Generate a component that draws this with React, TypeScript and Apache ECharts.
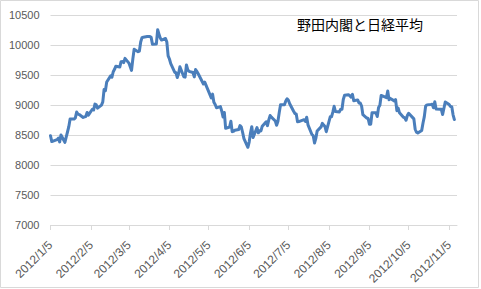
import React, { useEffect, useRef } from "react";
import * as echarts from "echarts";

const dates: string[] = [
  "2012/1/5", "2012/1/6", "2012/1/10", "2012/1/11", "2012/1/12", "2012/1/13", "2012/1/16", "2012/1/17", "2012/1/18", "2012/1/19",
  "2012/1/20", "2012/1/23", "2012/1/24", "2012/1/25", "2012/1/26", "2012/1/27", "2012/1/30", "2012/1/31",
  "2012/2/1", "2012/2/2", "2012/2/3", "2012/2/6", "2012/2/7", "2012/2/8", "2012/2/9", "2012/2/10", "2012/2/13", "2012/2/14",
  "2012/2/15", "2012/2/16", "2012/2/17", "2012/2/20", "2012/2/21", "2012/2/22", "2012/2/23", "2012/2/24", "2012/2/27", "2012/2/28", "2012/2/29",
  "2012/3/1", "2012/3/2", "2012/3/5", "2012/3/6", "2012/3/7", "2012/3/8", "2012/3/9", "2012/3/12", "2012/3/13", "2012/3/14",
  "2012/3/15", "2012/3/16", "2012/3/19", "2012/3/21", "2012/3/22", "2012/3/23", "2012/3/26", "2012/3/27", "2012/3/28", "2012/3/29", "2012/3/30",
  "2012/4/2", "2012/4/3", "2012/4/4", "2012/4/5", "2012/4/6", "2012/4/9", "2012/4/10", "2012/4/11", "2012/4/12", "2012/4/13",
  "2012/4/16", "2012/4/17", "2012/4/18", "2012/4/19", "2012/4/20", "2012/4/23", "2012/4/24", "2012/4/25", "2012/4/26", "2012/4/27",
  "2012/5/1", "2012/5/2", "2012/5/7", "2012/5/8", "2012/5/9", "2012/5/10", "2012/5/11", "2012/5/14", "2012/5/15", "2012/5/16",
  "2012/5/17", "2012/5/18", "2012/5/21", "2012/5/22", "2012/5/23", "2012/5/24", "2012/5/25", "2012/5/28", "2012/5/29", "2012/5/30", "2012/5/31",
  "2012/6/1", "2012/6/4", "2012/6/5", "2012/6/6", "2012/6/7", "2012/6/8", "2012/6/11", "2012/6/12", "2012/6/13", "2012/6/14",
  "2012/6/15", "2012/6/18", "2012/6/19", "2012/6/20", "2012/6/21", "2012/6/22", "2012/6/25", "2012/6/26", "2012/6/27", "2012/6/28", "2012/6/29",
  "2012/7/2", "2012/7/3", "2012/7/4", "2012/7/5", "2012/7/6", "2012/7/9", "2012/7/10", "2012/7/11", "2012/7/12", "2012/7/13",
  "2012/7/17", "2012/7/18", "2012/7/19", "2012/7/20", "2012/7/23", "2012/7/24", "2012/7/25", "2012/7/26", "2012/7/27", "2012/7/30", "2012/7/31",
  "2012/8/1", "2012/8/2", "2012/8/3", "2012/8/6", "2012/8/7", "2012/8/8", "2012/8/9", "2012/8/10", "2012/8/13", "2012/8/14",
  "2012/8/15", "2012/8/16", "2012/8/17", "2012/8/20", "2012/8/21", "2012/8/22", "2012/8/23", "2012/8/24", "2012/8/27", "2012/8/28",
  "2012/8/29", "2012/8/30", "2012/8/31",
  "2012/9/3", "2012/9/4", "2012/9/5", "2012/9/6", "2012/9/7", "2012/9/10", "2012/9/11", "2012/9/12", "2012/9/13", "2012/9/14",
  "2012/9/18", "2012/9/19", "2012/9/20", "2012/9/21", "2012/9/24", "2012/9/25", "2012/9/26", "2012/9/27", "2012/9/28",
  "2012/10/1", "2012/10/2", "2012/10/3", "2012/10/4", "2012/10/5", "2012/10/9", "2012/10/10", "2012/10/11", "2012/10/12",
  "2012/10/15", "2012/10/16", "2012/10/17", "2012/10/18", "2012/10/19", "2012/10/22", "2012/10/23", "2012/10/24", "2012/10/25",
  "2012/10/26", "2012/10/29", "2012/10/30", "2012/10/31",
  "2012/11/1", "2012/11/2", "2012/11/5", "2012/11/6", "2012/11/7", "2012/11/8", "2012/11/9",
];

const closes: number[] = [
  8488, 8390, 8422, 8448, 8385, 8500, 8378, 8466, 8550, 8639,
  8766, 8765, 8785, 8883, 8849, 8841, 8793, 8802,
  8809, 8876, 8831, 8929, 8917, 9015, 9002, 8947, 8999, 9052,
  9260, 9238, 9384, 9485, 9463, 9554, 9595, 9647, 9633, 9722, 9723,
  9707, 9777, 9698, 9637, 9576, 9768, 9929, 9889, 9899, 10050,
  10123, 10129, 10141, 10141, 10127, 10011, 10018, 10255, 10182, 10114, 10083,
  10109, 10050, 9819, 9767, 9688, 9546, 9538, 9458, 9524, 9637,
  9470, 9464, 9667, 9588, 9561, 9542, 9468, 9590, 9561, 9520,
  9350, 9380, 9119, 9181, 9045, 9009, 8953, 8973, 8900, 8801,
  8876, 8611, 8633, 8729, 8556, 8563, 8580, 8593, 8657, 8633, 8542,
  8440, 8295, 8383, 8533, 8639, 8459, 8624, 8536, 8569, 8568,
  8647, 8721, 8655, 8752, 8824, 8798, 8734, 8663, 8730, 8874, 9006,
  9003, 9066, 9104, 9079, 9020, 8896, 8857, 8851, 8720, 8724,
  8755, 8726, 8795, 8669, 8508, 8488, 8365, 8443, 8566, 8635, 8695,
  8665, 8641, 8555, 8803, 8804, 8881, 8978, 8891, 8885, 8929,
  8929, 9092, 9162, 9171, 9156, 9131, 9178, 9070, 9085, 9034,
  9033, 8983, 8839,
  8783, 8775, 8679, 8680, 8871, 8869, 8807, 8959, 8995, 9159,
  9123, 9232, 9087, 9110, 9069, 9091, 8906, 8949, 8870,
  8797, 8786, 8746, 8824, 8863, 8769, 8596, 8546, 8534,
  8577, 8701, 8806, 8982, 9002, 9010, 9014, 8954, 9055,
  8933, 8929, 8928, 8841,
  8946, 9051, 9007, 8975, 8972, 8837, 8757,
];

const tickLabels: string[] = [
  "2012/1/5", "2012/2/5", "2012/3/5", "2012/4/5", "2012/5/5", "2012/6/5",
  "2012/7/5", "2012/8/5", "2012/9/5", "2012/10/5", "2012/11/5",
];

const axisStart = "2012/1/5";
const axisEnd = "2012/11/11";
const yMin = 7000;
const yMax = 10500;
const yStep = 500;
const titleText = "野田内閣と日経平均";

const toTs = (s: string): number => {
  const [y, m, d] = s.split("/").map(Number);
  return Date.UTC(y, m - 1, d);
};

const fmt = (v: number): string => {
  const dt = new Date(v);
  return `${dt.getUTCFullYear()}/${dt.getUTCMonth() + 1}/${dt.getUTCDate()}`;
};

export default function App() {
  const ref = useRef<HTMLDivElement>(null);

  useEffect(() => {
    if (!ref.current) return;
    const chart = echarts.init(ref.current, undefined, { renderer: "svg" });
    const tickTs = tickLabels.map(toTs);
    const font = "'Liberation Sans', Arial, sans-serif";
    chart.setOption({
      animation: false,
      backgroundColor: "#ffffff",
      grid: {
        left: 50.5,
        right: 24,
        top: 15,
        bottom: 64,
        containLabel: false,
        outerBoundsMode: "none",
      },
      xAxis: {
        type: "value",
        min: toTs(axisStart),
        max: toTs(axisEnd),
        axisLine: { show: true, lineStyle: { color: "#d9d9d9", width: 1 } },
        axisTick: {
          show: true,
          customValues: tickTs,
          length: 5,
          lineStyle: { color: "#d9d9d9" },
        },
        axisLabel: {
          customValues: tickTs,
          rotate: 45,
          margin: 18,
          verticalAlign: "middle",
          color: "#595959",
          fontSize: 12,
          fontFamily: font,
          formatter: (v: number) => fmt(v),
        },
        splitLine: { show: false },
      },
      yAxis: {
        type: "value",
        min: yMin,
        max: yMax,
        interval: yStep,
        axisLine: { show: false },
        axisTick: { show: false },
        axisLabel: {
          color: "#595959",
          fontSize: 11,
          fontFamily: font,
          margin: 11,
          formatter: (v: number) => String(v),
        },
        splitLine: { lineStyle: { color: "#d9d9d9", width: 1 } },
      },
      graphic: [
        {
          type: "rect",
          shape: { x: 0.5, y: 0.5, width: 478, height: 287 },
          style: { fill: "none", stroke: "#d9d9d9", lineWidth: 1 },
          silent: true,
        },
        {
          type: "text",
          x: 297,
          y: 17,
          style: {
            text: titleText,
            fill: "#000000",
            fontSize: 14,
            fontFamily: "'Noto Sans CJK JP', sans-serif",
            textVerticalAlign: "top",
          },
        },
      ],
      series: [
        {
          type: "line",
          data: dates.map((d, i) => [toTs(d), closes[i]]),
          showSymbol: false,
          lineStyle: { color: "#4a7ebb", width: 3, join: "round", cap: "round" },
          itemStyle: { color: "#4a7ebb" },
        },
      ],
    });
    return () => chart.dispose();
  }, []);

  return (
    <div
      ref={ref}
      style={{ position: "fixed", left: 0, top: 0, width: 481, height: 289 }}
    />
  );
}
